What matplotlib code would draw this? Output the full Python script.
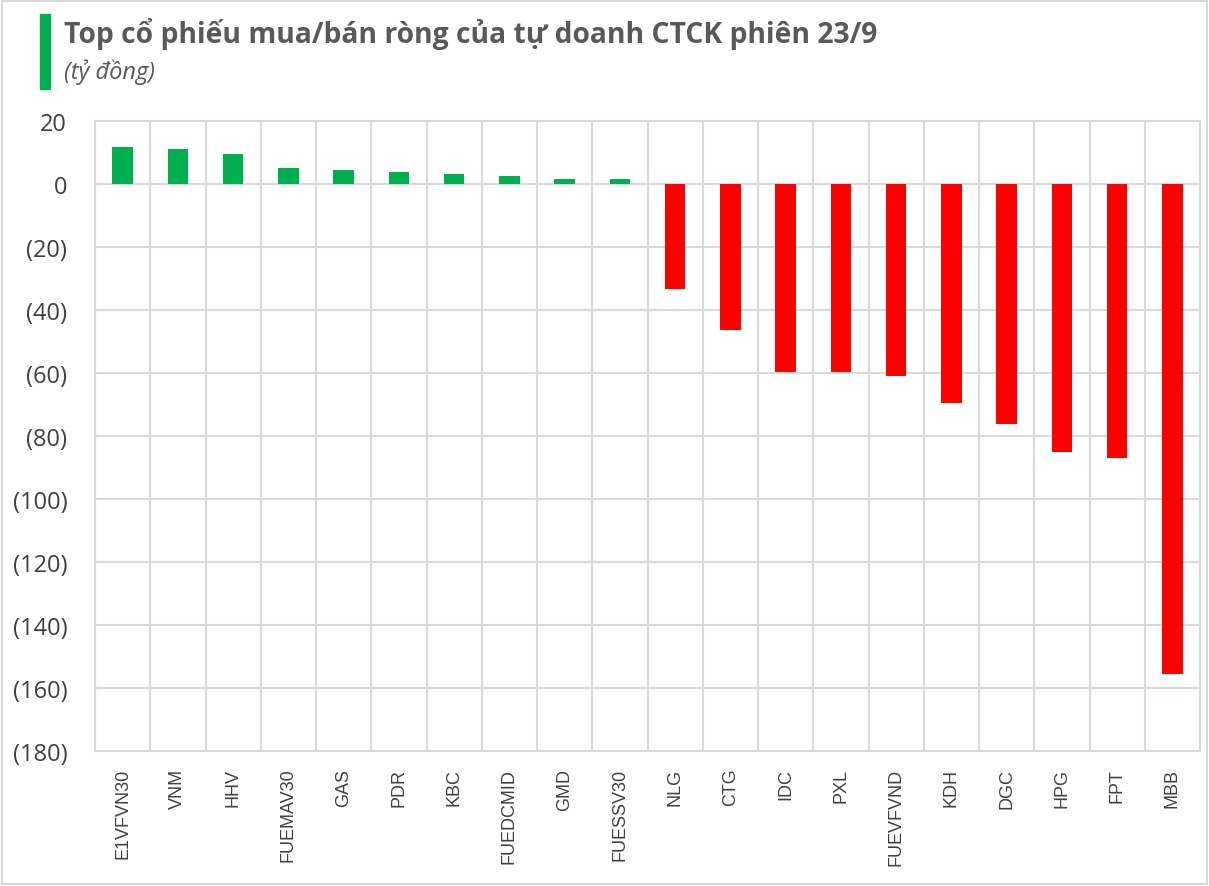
import numpy as np
import matplotlib.pyplot as plt
from matplotlib.patches import Rectangle

plt.rcParams['font.family'] = ['Open Sans', 'DejaVu Sans']

# data (ty dong)
tickers = ["E1VFVN30", "VNM", "HHV", "FUEMAV30", "GAS", "PDR", "KBC", "FUEDCMID", "GMD", "FUESSV30",
           "NLG", "CTG", "IDC", "PXL", "FUEVFVND", "KDH", "DGC", "HPG", "FPT", "MBB"]
values = [11.6, 11.0, 9.4, 5.0, 4.3, 3.7, 3.1, 2.4, 1.5, 1.5,
          -33.3, -46.3, -59.8, -59.8, -61.0, -69.6, -76.2, -85.1, -87.0, -155.6]
y_ticks = [20, 0, -20, -40, -60, -80, -100, -120, -140, -160, -180]

green = "#00b050"
red = "#ff0000"
grid_c = "#d9d9d9"

fig = plt.figure(figsize=(12.09, 8.87), dpi=100)
ax = fig.add_axes([95 / 1209, 1 - 752 / 887, (1200 - 95) / 1209, (752 - 122) / 887])

x = np.arange(len(tickers))
colors = [green if v >= 0 else red for v in values]
ax.bar(x, values, width=0.37, color=colors, zorder=3)

ax.set_xlim(-0.5, len(tickers) - 0.5)
ax.set_ylim(-180, 20)
ax.set_yticks(y_ticks)
ax.set_yticklabels([str(v) if v >= 0 else "(%d)" % -v for v in y_ticks], fontsize=17, color="#404040")
ax.set_xticks(x)
ax.set_xticklabels(tickers, rotation=90, fontsize=13, color="#404040", family=['Liberation Sans', 'DejaVu Sans'])
ax.tick_params(axis='both', length=0)
ax.tick_params(axis='y', pad=20)
ax.tick_params(axis='x', pad=12)

# horizontal + category-boundary gridlines
for v in y_ticks:
    ax.axhline(v, color=grid_c, lw=1.5, zorder=1)
for b in np.arange(-0.5, len(tickers), 1.0):
    ax.axvline(b, color=grid_c, lw=1.5, zorder=1)
for s in ax.spines.values():
    s.set_color(grid_c)
    s.set_linewidth(1.5)

# title block
fig.patches.append(Rectangle((40 / 1209, 1 - 90 / 887), 10 / 1209, 75 / 887,
                             transform=fig.transFigure, color=green))
fig.text(64 / 1209, 1 - 34 / 887, "Top cổ phiếu mua/bán ròng của tự doanh CTCK phiên 23/9",
         fontsize=20.3, fontweight='bold', color="#595959", va='center')
fig.text(64 / 1209, 1 - 72 / 887, "(tỷ đồng)", fontsize=17, style='italic', color="#595959", va='center')

# outer frame
fig.patches.append(Rectangle((0.002, 0.002), 0.996, 0.996, transform=fig.transFigure,
                             fill=False, edgecolor="#d9d9d9", lw=1.5))

fig.savefig("out.png", dpi=100)
